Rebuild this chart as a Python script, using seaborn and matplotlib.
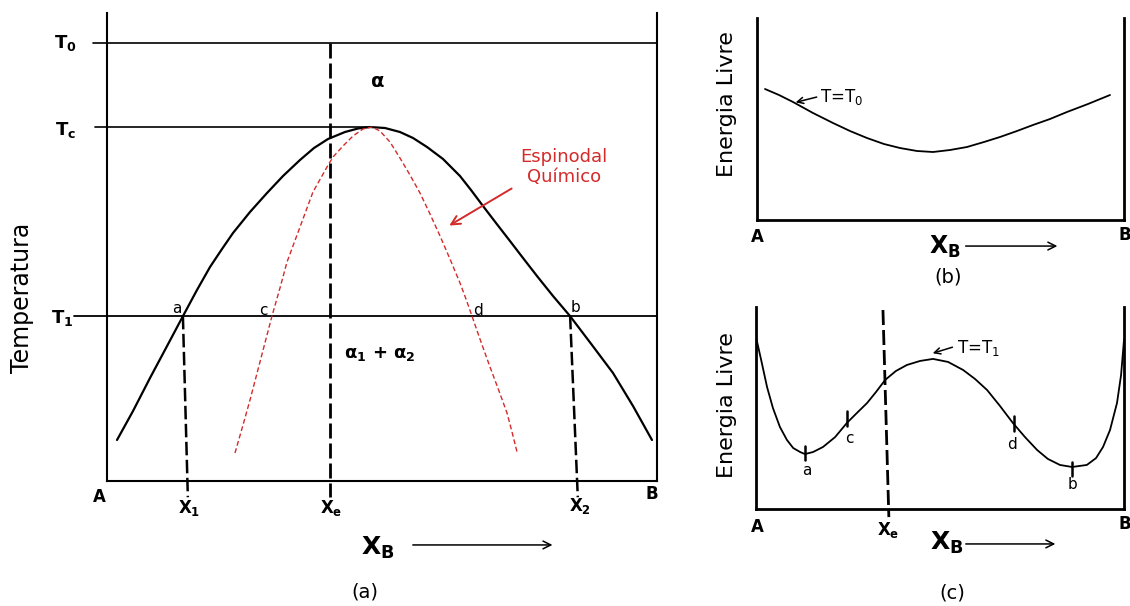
import matplotlib
matplotlib.use("Agg")
import matplotlib.pyplot as plt
import seaborn as sns

# ---------------- (a) phase diagram: X_B from A (0) to B (1), T scaled so T0 = 1
gap_x = [0.0182, 0.0473, 0.0782, 0.1073, 0.1382, 0.1636, 0.1873, 0.2091, 0.2291,
         0.2600, 0.2909, 0.3200, 0.3509, 0.3764, 0.4018, 0.4327, 0.4564, 0.4782,
         0.5055, 0.5327, 0.5564, 0.5818, 0.6109, 0.6418, 0.6618, 0.6836, 0.7073,
         0.7327, 0.7564, 0.7818, 0.8109, 0.8418, 0.8818, 0.9200, 0.9564, 0.9909]
gap_t = [0.0936, 0.1598, 0.2352, 0.3037, 0.3767, 0.4361, 0.4886, 0.5297, 0.5662,
         0.6142, 0.6575, 0.6963, 0.7329, 0.7603, 0.7808, 0.7968, 0.8048, 0.8082,
         0.8059, 0.7968, 0.7831, 0.7626, 0.7352, 0.6963, 0.6644, 0.6279, 0.5890,
         0.5479, 0.5091, 0.4680, 0.4224, 0.3767, 0.3105, 0.2466, 0.1712, 0.0936]

spin_x = [0.2327, 0.2473, 0.2600, 0.2800, 0.3000, 0.3145, 0.3273, 0.3509, 0.3745,
          0.4000, 0.4109, 0.4291, 0.4473, 0.4655, 0.4818, 0.4964, 0.5145, 0.5327,
          0.5509, 0.5691, 0.5873, 0.6055, 0.6236, 0.6418, 0.6527, 0.6636, 0.6800,
          0.6964, 0.7127, 0.7273, 0.7364, 0.7455]
spin_t = [0.0639, 0.1279, 0.1849, 0.2808, 0.3767, 0.4406, 0.5000, 0.5799, 0.6598,
          0.7169, 0.7397, 0.7648, 0.7877, 0.8037, 0.8082, 0.7991, 0.7740, 0.7374,
          0.6986, 0.6575, 0.6096, 0.5594, 0.5068, 0.4521, 0.4155, 0.3767, 0.3174,
          0.2603, 0.2055, 0.1553, 0.1119, 0.0662]

T0, TC, T1 = 1.0, 0.808, 0.377
x_e = 0.405
x_1 = [0.138, 0.147]
x_2 = [0.842, 0.856]

# ---------------- (b) free energy at T = T0
g0_x = [0.0218, 0.0599, 0.0981, 0.1526, 0.2071, 0.2534, 0.2997, 0.3460, 0.3896,
        0.4360, 0.4796, 0.5259, 0.5722, 0.6185, 0.6621, 0.7084, 0.7520, 0.7984,
        0.8447, 0.9019, 0.9619]
g0_g = [0.6485, 0.6188, 0.5842, 0.5297, 0.4802, 0.4406, 0.4059, 0.3762, 0.3564,
        0.3416, 0.3366, 0.3465, 0.3614, 0.3861, 0.4109, 0.4406, 0.4703, 0.5000,
        0.5347, 0.5743, 0.6188]

# ---------------- (c) free energy at T = T1
g1_x = [0.000, 0.014, 0.030, 0.046, 0.065, 0.084, 0.101, 0.120, 0.133, 0.155,
        0.182, 0.215, 0.247, 0.274, 0.302, 0.326, 0.351, 0.380, 0.410, 0.446,
        0.481, 0.522, 0.563, 0.595, 0.628, 0.663, 0.698, 0.731, 0.764, 0.793,
        0.826, 0.859, 0.899, 0.924, 0.943, 0.962, 0.981, 0.992, 1.000]
g1_g = [0.851, 0.738, 0.604, 0.500, 0.406, 0.342, 0.302, 0.282, 0.272, 0.282,
        0.307, 0.356, 0.426, 0.475, 0.525, 0.579, 0.639, 0.683, 0.713, 0.733,
        0.743, 0.728, 0.688, 0.644, 0.589, 0.510, 0.426, 0.356, 0.292, 0.248,
        0.218, 0.208, 0.218, 0.252, 0.307, 0.391, 0.525, 0.663, 0.837]

mark_labels = ["a", "c", "d", "b"]
mark_x = [0.133, 0.247, 0.701, 0.859]
mark_g = [0.277, 0.448, 0.423, 0.198]
mark_lx = [0.139, 0.255, 0.696, 0.861]
mark_lg = [0.193, 0.351, 0.317, 0.119]
x_e_c = [0.345, 0.361]

sns.set_theme(style="white")
plt.rcParams["font.family"] = ["DejaVu Sans"]
plt.rcParams["mathtext.fontset"] = "dejavusans"
plt.rcParams["text.color"] = "black"
plt.rcParams["lines.solid_joinstyle"] = "round"

fig = plt.figure(figsize=(11.3, 6.06), dpi=100)
fig.patch.set_facecolor("white")

RED = "#d42a2a"
DASH = (0, (5.4, 1.8))

# ======================= (a) =======================
ax = fig.add_axes([107 / 1130, 125 / 606, 550 / 1130, 468 / 606])
ax.set_xlim(0, 1)
ax.set_ylim(0, 1.0685)
for s in ["left", "bottom", "right"]:
    ax.spines[s].set_linewidth(1.5)
    ax.spines[s].set_color("black")
ax.spines["top"].set_visible(False)
ax.set_xticks([])
ax.set_yticks([])

# isotherms
ax.plot([-0.025, 1.0], [T0, T0], color="black", lw=1.2, clip_on=False)
ax.plot([-0.022, 0.482], [TC, TC], color="black", lw=1.2, clip_on=False)
ax.plot([-0.06, 1.0], [T1, T1], color="black", lw=1.3, clip_on=False)

# miscibility gap and chemical spinodal
sns.lineplot(x=gap_x, y=gap_t, ax=ax, color="black", lw=1.6, sort=False, estimator=None)
sns.lineplot(x=spin_x, y=spin_t, ax=ax, color=RED, lw=1.0, sort=False, estimator=None)
ax.lines[-1].set_linestyle((0, (3.5, 2)))

# composition markers
ax.plot([x_e, x_e], [T0, -0.037], color="black", lw=2.0, ls=DASH, clip_on=False)
ax.plot(x_1, [T1, -0.037], color="black", lw=1.8, ls=DASH, clip_on=False)
ax.plot(x_2, [T1, -0.037], color="black", lw=1.8, ls=DASH, clip_on=False)

ax.text(-0.076, T0, r"$\mathbf{T_0}$", ha="center", va="center", fontsize=13)
ax.text(-0.076, 0.801, r"$\mathbf{T_c}$", ha="center", va="center", fontsize=13)
ax.text(-0.082, 0.372, r"$\mathbf{T_1}$", ha="center", va="center", fontsize=13)
ax.text(-0.013, -0.037, "A", ha="center", va="center", fontsize=12, fontweight="bold")
ax.text(0.991, -0.030, "B", ha="center", va="center", fontsize=12, fontweight="bold")
ax.text(0.149, -0.062, r"$\mathbf{X_1}$", ha="center", va="center", fontsize=12)
ax.text(0.407, -0.062, r"$\mathbf{X_e}$", ha="center", va="center", fontsize=12)
ax.text(0.860, -0.057, r"$\mathbf{X_2}$", ha="center", va="center", fontsize=12)
ax.text(0.493, -0.153, r"$\mathbf{X_B}$", ha="center", va="center", fontsize=18)
ax.annotate("", xy=(0.815, -0.146), xytext=(0.551, -0.146),
            arrowprops=dict(arrowstyle="->", lw=1.1, color="black", mutation_scale=14),
            annotation_clip=False)
ax.text(0.469, -0.253, "(a)", ha="center", va="center", fontsize=14)
ax.text(-0.155, 0.418, "Temperatura", rotation=90, ha="center", va="center", fontsize=17)
ax.text(0.491, 0.911, r"$\mathbf{\alpha}$", ha="center", va="center", fontsize=14)
ax.text(0.496, 0.290, r"$\mathbf{\alpha_1}$ + $\mathbf{\alpha_2}$", ha="center", va="center",
        fontsize=13, fontweight="bold")
for lab, lx, lt in zip(["a", "c", "d", "b"], [0.127, 0.284, 0.675, 0.851],
                       [0.393, 0.390, 0.390, 0.395]):
    ax.text(lx, lt, lab, ha="center", va="center", fontsize=11)
ax.text(0.831, 0.717, "Espinodal\nQuímico", ha="center", va="center", fontsize=13,
        color=RED, linespacing=1.1)
ax.annotate("", xy=(0.618, 0.580), xytext=(0.740, 0.671),
            arrowprops=dict(arrowstyle="->", lw=1.4, color=RED, mutation_scale=16))

# ======================= (b) =======================
bx = fig.add_axes([757 / 1130, 386 / 606, 367 / 1130, 202 / 606])
bx.set_xlim(0, 1)
bx.set_ylim(0, 1)
for s in ["left", "bottom", "right"]:
    bx.spines[s].set_linewidth(2.0)
    bx.spines[s].set_color("black")
bx.spines["top"].set_visible(False)
bx.set_xticks([])
bx.set_yticks([])
sns.lineplot(x=g0_x, y=g0_g, ax=bx, color="black", lw=1.3, sort=False, estimator=None)
bx.text(0.172, 0.609, r"T=T$_\mathrm{0}$", ha="left", va="center", fontsize=12)
bx.annotate("", xy=(0.098, 0.579), xytext=(0.170, 0.612),
            arrowprops=dict(arrowstyle="->", lw=1.1, color="black", mutation_scale=11))
bx.text(0.0, -0.084, "A", ha="center", va="center", fontsize=12, fontweight="bold")
bx.text(1.003, -0.074, "B", ha="center", va="center", fontsize=12, fontweight="bold")
bx.text(0.512, -0.134, r"$\mathbf{X_B}$", ha="center", va="center", fontsize=17)
bx.annotate("", xy=(0.826, -0.129), xytext=(0.561, -0.129),
            arrowprops=dict(arrowstyle="->", lw=1.1, color="black", mutation_scale=14),
            annotation_clip=False)
bx.text(0.520, -0.282, "(b)", ha="center", va="center", fontsize=14)
bx.text(-0.082, 0.574, "Energia Livre", rotation=90, ha="center", va="center", fontsize=16)

# ======================= (c) =======================
cx = fig.add_axes([756 / 1130, 97 / 606, 368 / 1130, 202 / 606])
cx.set_xlim(0, 1)
cx.set_ylim(0, 1)
for s in ["left", "bottom", "right"]:
    cx.spines[s].set_linewidth(2.0)
    cx.spines[s].set_color("black")
cx.spines["top"].set_visible(False)
cx.set_xticks([])
cx.set_yticks([])
sns.lineplot(x=g1_x, y=g1_g, ax=cx, color="black", lw=1.3, sort=False, estimator=None)
cx.plot(x_e_c, [0.985, -0.04], color="black", lw=2.0, ls=DASH, clip_on=False)
for lab, mx, mg, lx, lg in zip(mark_labels, mark_x, mark_g, mark_lx, mark_lg):
    cx.plot([mx, mx], [mg - 0.035, mg + 0.035], color="black", lw=1.8)
    cx.text(lx, lg, lab, ha="center", va="center", fontsize=11)
cx.text(0.546, 0.797, r"T=T$_\mathrm{1}$", ha="left", va="center", fontsize=12)
cx.annotate("", xy=(0.473, 0.767), xytext=(0.541, 0.805),
            arrowprops=dict(arrowstyle="->", lw=1.1, color="black", mutation_scale=11))
cx.text(0.359, -0.104, r"$\mathbf{X_e}$", ha="center", va="center", fontsize=12)
cx.text(0.003, -0.089, "A", ha="center", va="center", fontsize=12, fontweight="bold")
cx.text(1.003, -0.074, "B", ha="center", va="center", fontsize=12, fontweight="bold")
cx.text(0.519, -0.168, r"$\mathbf{X_B}$", ha="center", va="center", fontsize=18)
cx.annotate("", xy=(0.821, -0.173), xytext=(0.5625, -0.173),
            arrowprops=dict(arrowstyle="->", lw=1.1, color="black", mutation_scale=14),
            annotation_clip=False)
cx.text(0.533, -0.416, "(c)", ha="center", va="center", fontsize=14)
cx.text(-0.079, 0.515, "Energia Livre", rotation=90, ha="center", va="center", fontsize=16)

fig.savefig("out.png", dpi=100)
